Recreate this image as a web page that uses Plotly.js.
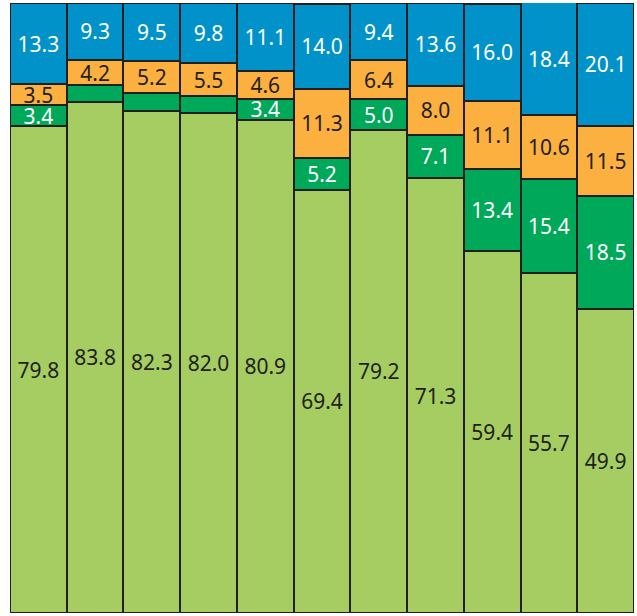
<!DOCTYPE html>
<html>
<head>
<meta charset="utf-8">
<script src="https://cdn.plot.ly/plotly-3.0.1.min.js"></script>
<style>html,body{margin:0;padding:0;background:#fff;}#chart{width:637px;height:616px;}</style>
</head>
<body>
<div id="chart"></div>
<script>
const categories = ['1','2','3','4','5','6','7','8','9','10','11'];
const lightGreen = [79.8, 83.8, 82.3, 82.0, 80.9, 69.4, 79.2, 71.3, 59.4, 55.7, 49.9];
const green      = [3.4, 2.7, 3.0, 2.7, 3.4, 5.2, 5.0, 7.1, 13.4, 15.4, 18.5];
const orange     = [3.5, 4.2, 5.2, 5.5, 4.6, 11.3, 6.4, 8.0, 11.1, 10.6, 11.5];
const blue       = [13.3, 9.3, 9.5, 9.8, 11.1, 14.0, 9.4, 13.6, 16.0, 18.4, 20.1];
const greenLabelShown = [true, false, false, false, true, true, true, true, true, true, true];

const outline = {color: '#231f20', width: 2};
const fontFam = 'Noto Sans, Open Sans, sans-serif';
function mk(vals, color, textColor, shown) {
  return {
    type: 'bar', x: categories, y: vals,
    marker: {color: color, line: outline},
    text: vals.map((v, i) => (shown && !shown[i]) ? '' : v.toFixed(1)),
    textposition: 'inside', insidetextanchor: 'middle',
    constraintext: 'none',
    textfont: {family: fontFam, size: 21, color: textColor},
    hoverinfo: 'none'
  };
}
const data = [
  mk(lightGreen, '#a5cd62', '#231f20'),
  mk(green, '#00a859', '#ffffff', greenLabelShown),
  mk(orange, '#fbb040', '#231f20'),
  mk(blue, '#0092c8', '#ffffff')
];
const layout = {
  barmode: 'stack', bargap: 0,
  width: 637, height: 616,
  margin: {l: 10, r: 3, t: 3, b: 3, pad: 0},
  showlegend: false,
  paper_bgcolor: '#ffffff', plot_bgcolor: '#ffffff',
  xaxis: {visible: false, type: 'category', range: [-0.5, 10.5]},
  yaxis: {visible: false, range: [0, 100]}
};
Plotly.newPlot('chart', data, layout, {staticPlot: true});
</script>
</body>
</html>
